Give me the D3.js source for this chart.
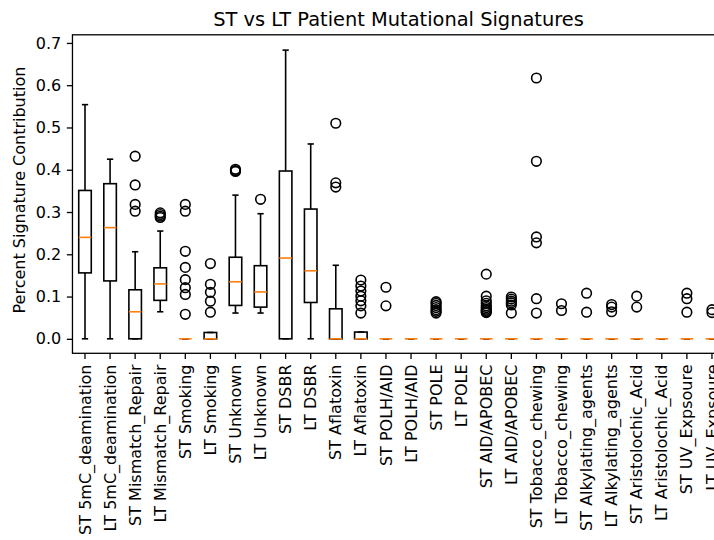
<!DOCTYPE html>
<html>
<head>
<meta charset="utf-8">
<script src="https://cdn.jsdelivr.net/npm/d3@7"></script>
<style>
  html, body { margin: 0; padding: 0; background: #fff; }
  svg { display: block; font-family: "DejaVu Sans", sans-serif; }
</style>
</head>
<body>
<svg id="chart" width="714" height="540"></svg>
<script>
// Signature groups, short-term (ST) vs long-term (LT) survivors
const categories = [
  "ST 5mC_deamination", "LT 5mC_deamination",
  "ST Mismatch_Repair", "LT Mismatch_Repair",
  "ST Smoking", "LT Smoking",
  "ST Unknown", "LT Unknown",
  "ST DSBR", "LT DSBR",
  "ST Aflatoxin", "LT Aflatoxin",
  "ST POLH/AID", "LT POLH/AID",
  "ST POLE", "LT POLE",
  "ST AID/APOBEC", "LT AID/APOBEC",
  "ST Tobacco_chewing", "LT Tobacco_chewing",
  "ST Alkylating_agents", "LT Alkylating_agents",
  "ST Aristolochic_Acid", "LT Aristolochic_Acid",
  "ST UV_Expsoure", "LT UV_Expsoure"
];

// Box statistics per group (fraction of signature contribution)
const whiskerLow  = [0, 0, 0, 0.064, 0, 0, 0.061, 0.061, 0, 0, 0, 0, 0, 0, 0, 0, 0, 0, 0, 0, 0, 0, 0, 0, 0, 0];
const q1          = [0.156, 0.137, 0, 0.091, 0, 0, 0.079, 0.075, 0, 0.086, 0, 0, 0, 0, 0, 0, 0, 0, 0, 0, 0, 0, 0, 0, 0, 0];
const medians     = [0.240, 0.263, 0.064, 0.130, 0, 0, 0.135, 0.111, 0.191, 0.161, 0, 0, 0, 0, 0, 0, 0, 0, 0, 0, 0, 0, 0, 0, 0, 0];
const q3          = [0.351, 0.367, 0.116, 0.168, 0, 0.015, 0.193, 0.173, 0.397, 0.307, 0.071, 0.016, 0, 0, 0, 0, 0, 0, 0, 0, 0, 0, 0, 0, 0, 0];
const whiskerHigh = [0.554, 0.425, 0.206, 0.255, 0, 0.015, 0.340, 0.296, 0.683, 0.461, 0.174, 0.016, 0, 0, 0, 0, 0, 0, 0, 0, 0, 0, 0, 0, 0, 0];

const outliers = [
  [],
  [],
  [0.432, 0.364, 0.318, 0.302],
  [0.298, 0.294, 0.290, 0.287],
  [0.318, 0.302, 0.207, 0.169, 0.140, 0.121, 0.105, 0.058],
  [0.178, 0.129, 0.110, 0.089, 0.063],
  [0.401, 0.398, 0.396],
  [0.330],
  [],
  [],
  [0.510, 0.369, 0.359],
  [0.139, 0.125, 0.113, 0.101, 0.090, 0.078, 0.061],
  [0.122, 0.078],
  [],
  [0.088, 0.084, 0.079, 0.074, 0.069, 0.065, 0.061],
  [],
  [0.153, 0.101, 0.090, 0.084, 0.078, 0.074, 0.070, 0.067, 0.064, 0.062],
  [0.099, 0.094, 0.089, 0.085, 0.080, 0.061],
  [0.617, 0.420, 0.241, 0.227, 0.095, 0.061],
  [0.083, 0.067],
  [0.108, 0.063],
  [0.081, 0.075, 0.064],
  [0.101, 0.075],
  [],
  [0.108, 0.095, 0.063],
  [0.069, 0.062]
];

const yTicks = [0.0, 0.1, 0.2, 0.3, 0.4, 0.5, 0.6, 0.7];
const titleText = "ST vs LT Patient Mutational Signatures";
const yLabelText = "Percent Signature Contribution";

// ---- layout ----
const plot = { left: 72.46, right: 724.5, top: 34.8, bottom: 353.3 };
const tickLen = 5.6, tickPad = 5.6;
const lw = 1.6;

const svg = d3.select("#chart");
svg.append("rect").attr("width", 714).attr("height", 540).attr("fill", "#fff");

const x = d3.scaleBand().domain(categories).range([plot.left, plot.right]).padding(0);
const y = d3.scaleLinear().domain([-0.03425, 0.71925]).range([plot.bottom, plot.top]);

const boxW = x.bandwidth() * 0.5;
const capW = boxW * 0.5;

const data = categories.map((c, i) => ({
  cat: c, lo: whiskerLow[i], q1: q1[i], med: medians[i], q3: q3[i], hi: whiskerHigh[i], out: outliers[i]
}));

const g = svg.append("g");
const groups = g.selectAll("g.box").data(data).join("g")
  .attr("class", "box")
  .attr("transform", d => `translate(${x(d.cat) + x.bandwidth() / 2},0)`);

// box
groups.append("rect")
  .attr("x", -boxW / 2).attr("width", boxW)
  .attr("y", d => y(d.q3)).attr("height", d => y(d.q1) - y(d.q3))
  .attr("fill", "none").attr("stroke", "#000").attr("stroke-width", lw);

// whiskers
groups.append("line")
  .attr("x1", 0).attr("x2", 0)
  .attr("y1", d => y(d.q1)).attr("y2", d => y(d.lo))
  .attr("stroke", "#000").attr("stroke-width", lw);
groups.append("line")
  .attr("x1", 0).attr("x2", 0)
  .attr("y1", d => y(d.q3)).attr("y2", d => y(d.hi))
  .attr("stroke", "#000").attr("stroke-width", lw);

// caps
groups.append("line")
  .attr("x1", -capW / 2).attr("x2", capW / 2)
  .attr("y1", d => y(d.lo)).attr("y2", d => y(d.lo))
  .attr("stroke", "#000").attr("stroke-width", lw);
groups.append("line")
  .attr("x1", -capW / 2).attr("x2", capW / 2)
  .attr("y1", d => y(d.hi)).attr("y2", d => y(d.hi))
  .attr("stroke", "#000").attr("stroke-width", lw);

// median
groups.append("line")
  .attr("x1", -boxW / 2).attr("x2", boxW / 2)
  .attr("y1", d => y(d.med)).attr("y2", d => y(d.med))
  .attr("stroke", "#ff7f0e").attr("stroke-width", lw);

// fliers
groups.selectAll("circle").data(d => d.out).join("circle")
  .attr("cx", 0).attr("cy", v => y(v)).attr("r", 4.8)
  .attr("fill", "none").attr("stroke", "#000").attr("stroke-width", lw);

// ---- axes ----
const yAxis = svg.append("g")
  .attr("transform", `translate(${plot.left},0)`)
  .call(d3.axisLeft(y).tickValues(yTicks).tickFormat(d3.format(".1f")).tickSize(tickLen).tickPadding(tickPad));
yAxis.select(".domain").remove();
yAxis.selectAll("line").attr("stroke", "#000").attr("stroke-width", 1.3);
yAxis.selectAll("text").attr("fill", "#000").style("font-size", "16px").style("font-family", "DejaVu Sans");

const xAxis = svg.append("g")
  .attr("transform", `translate(0,${plot.bottom})`)
  .call(d3.axisBottom(x).tickSize(tickLen).tickPadding(tickPad));
xAxis.select(".domain").remove();
xAxis.selectAll("line").attr("stroke", "#000").attr("stroke-width", 1.3);
xAxis.selectAll("text")
  .attr("fill", "#000")
  .style("font-size", "16px").style("font-family", "DejaVu Sans")
  .attr("transform", "rotate(-90)")
  .attr("x", -(tickLen + tickPad)).attr("y", 0).attr("dy", "0.35em")
  .style("text-anchor", "end");

// spines
svg.append("rect")
  .attr("x", plot.left).attr("y", plot.top)
  .attr("width", plot.right - plot.left).attr("height", plot.bottom - plot.top)
  .attr("fill", "none").attr("stroke", "#000").attr("stroke-width", 1.3);

// title and axis label
svg.append("text")
  .attr("x", (plot.left + plot.right) / 2).attr("y", 26)
  .attr("text-anchor", "middle").attr("fill", "#000")
  .style("font-size", "19.4px")
  .text(titleText);

svg.append("text")
  .attr("transform", `translate(25,${(plot.top + plot.bottom) / 2 - 4}) rotate(-90)`)
  .attr("text-anchor", "middle").attr("fill", "#000")
  .style("font-size", "16px")
  .text(yLabelText);
</script>
</body>
</html>
